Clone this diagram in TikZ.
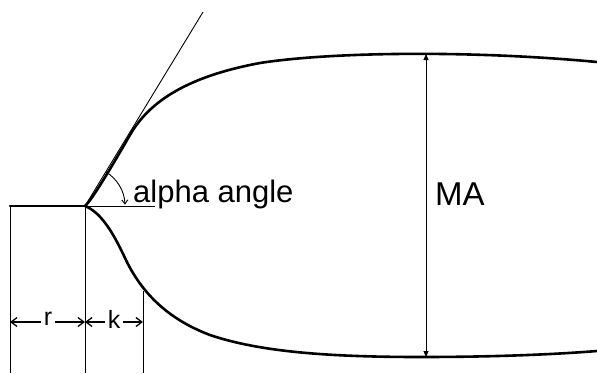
\documentclass[tikz,border=0pt]{standalone}
\usepackage{fontspec}
\setmainfont{Liberation Sans}
\usetikzlibrary{arrows.meta}
\begin{document}
\begin{tikzpicture}[x=1pt,y=-1pt,
    profile/.style={line width=2.6pt,line cap=round,line join=round},
    guide/.style={line width=0.9pt},
    dimarrow/.style={line width=1.3pt,-{Straight Barb[length=6pt,width=9pt]}},
    heightarrow/.style={line width=0.9pt,{Triangle[length=6pt,width=5pt]}-{Triangle[length=6pt,width=5pt]}},
    dimlabel/.style={inner sep=3pt,font=\fontsize{25}{30}\selectfont}]
  \useasboundingbox (0,0) rectangle (597,373);
  \coordinate (L) at (10,206);
  \coordinate (O) at (85,206);
  \coordinate (T) at (203,12);
  \coordinate (H) at (155,206);
  \coordinate (Ltop) at (10,206);   \coordinate (Lbot) at (10,373);
  \coordinate (Obot) at (85,373);
  \coordinate (Ktop) at (143,291);  \coordinate (Kbot) at (143,373);
  \coordinate (MAtop) at (426,54);  \coordinate (MAbot) at (426,357);
  % outline
  \draw[profile] (L) -- (O);
  \draw[profile] (O) .. controls (92,200) and (112,166) .. (130,135)
    .. controls (150,100) and (190,76) .. (260,63)
    .. controls (330,52) and (470,50) .. (597,62);
  \draw[profile] (O) .. controls (100,212) and (112,230) .. (125,258)
    .. controls (140,290) and (165,318) .. (210,335)
    .. controls (260,352) and (330,357) .. (420,357)
    .. controls (500,357) and (560,354) .. (597,351);
  % tangent and angle
  \draw[guide] (O) -- (T);
  \draw[guide] (O) -- (H);
  \draw[guide,-{Straight Barb[length=4pt,width=6pt]}] (O) ++(-59:40) arc[start angle=-59,end angle=-2,radius=40];
  \node[anchor=base west,inner sep=0pt,font=\fontsize{31}{36}\selectfont] (alpha) at (133,202) {alpha angle};
  % r and k
  \draw[guide] (Ltop) -- (Lbot);
  \draw[guide] (O) -- (Obot);
  \draw[guide] (Ktop) -- (Kbot);
  \coordinate (rL) at (10,322);  \coordinate (rR) at (85,322);
  \coordinate (kR) at (143,322);
  \node[dimlabel] (r) at (48,319) {r};
  \node[dimlabel] (k) at (114,319) {k};
  \draw[dimarrow] (r.west |- rL) -- (rL);
  \draw[dimarrow] (r.east |- rL) -- (rR);
  \draw[dimarrow] (k.west |- rL) -- (rR);
  \draw[dimarrow] (k.east |- rL) -- (kR);
  % MA
  \draw[heightarrow] (MAtop) -- (MAbot);
  \node[anchor=base west,inner sep=0pt,font=\fontsize{33}{40}\selectfont] (MA) at (435,205) {MA};
\end{tikzpicture}
\end{document}
